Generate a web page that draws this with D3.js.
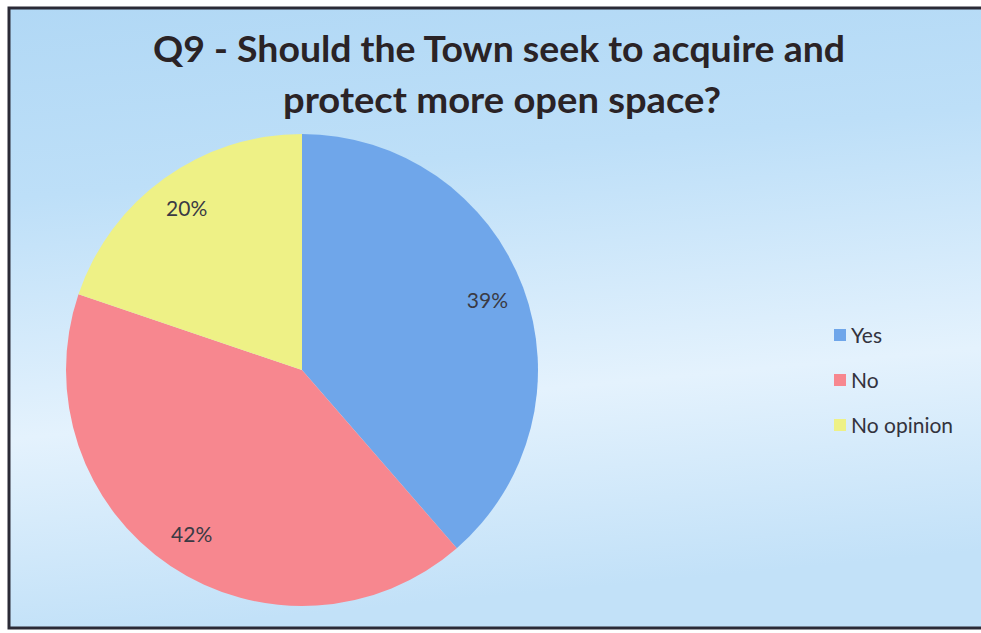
<!DOCTYPE html>
<html>
<head>
<meta charset="utf-8">
<script src="https://cdn.jsdelivr.net/npm/d3@7"></script>
<style>
  body { margin: 0; background: #ffffff; }
  text { font-family: Lato, "Open Sans", sans-serif; }
</style>
</head>
<body>
<script>
//chart data
var categories = ["Yes", "No", "No opinion"];
var values = [39, 42, 20];
var colors = ["#6fa6ea", "#f7878f", "#eef186"];
var titleLines = ["Q9 - Should the Town seek to acquire and", "protect more open space?"];

var width = 981, height = 633;

var svg = d3.select("body").append("svg")
    .attr("width", width)
    .attr("height", height);

//background gradient
var grad = svg.append("defs").append("linearGradient")
    .attr("id", "bg")
    .attr("x1", 0).attr("y1", 0).attr("x2", 0.15).attr("y2", 1);
grad.append("stop").attr("offset", "0%").attr("stop-color", "#b1d8f5");
grad.append("stop").attr("offset", "30%").attr("stop-color", "#bddff8");
grad.append("stop").attr("offset", "68%").attr("stop-color", "#e4f2fd");
grad.append("stop").attr("offset", "100%").attr("stop-color", "#c2e1f8");

//chart area with border
svg.append("rect")
    .attr("x", 9)
    .attr("y", 8)
    .attr("width", 990)
    .attr("height", 620)
    .attr("fill", "url(#bg)")
    .attr("stroke", "#2b2a36")
    .attr("stroke-width", 3);

//title
var titleWidths = [692, 438];
svg.selectAll(".title")
    .data(titleLines)
    .enter().append("text")
    .attr("class", "title")
    .attr("x", function(d, i) { return i == 0 ? 499 : 502; })
    .attr("y", function(d, i) { return 62 + i * 51; })
    .attr("text-anchor", "middle")
    .attr("font-size", 36)
    .attr("font-weight", "bold")
    .attr("fill", "#2a2326")
    .attr("textLength", function(d, i) { return titleWidths[i]; })
    .attr("lengthAdjust", "spacingAndGlyphs")
    .text(function(d) { return d; });

//pie
var cx = 302, cy = 370, radius = 236;
var pie = d3.pie().sort(null).value(function(d) { return d; });
var arc = d3.arc().innerRadius(0).outerRadius(radius);
var labelArc = d3.arc().innerRadius(198).outerRadius(198);

var g = svg.append("g")
    .attr("transform", "translate(" + cx + "," + cy + ")");

var slices = g.selectAll(".slice")
    .data(pie(values))
    .enter().append("g")
    .attr("class", "slice");

slices.append("path")
    .attr("d", arc)
    .attr("fill", function(d, i) { return colors[i]; });

slices.append("text")
    .attr("transform", function(d) { return "translate(" + labelArc.centroid(d) + ")"; })
    .attr("dy", "0.35em")
    .attr("text-anchor", "middle")
    .attr("font-size", 21)
    .attr("fill", "#3a3a44")
    .text(function(d) { return d.value + "%"; });

//legend
var legend = svg.selectAll(".legend")
    .data(categories)
    .enter().append("g")
    .attr("class", "legend")
    .attr("transform", function(d, i) { return "translate(834," + (335 + i * 45) + ")"; });

legend.append("rect")
    .attr("x", 0)
    .attr("y", -6)
    .attr("width", 12)
    .attr("height", 12)
    .attr("fill", function(d, i) { return colors[i]; });

legend.append("text")
    .attr("x", 17)
    .attr("dy", "0.36em")
    .attr("font-size", 21)
    .attr("fill", "#33333d")
    .text(function(d) { return d; });
</script>
</body>
</html>
